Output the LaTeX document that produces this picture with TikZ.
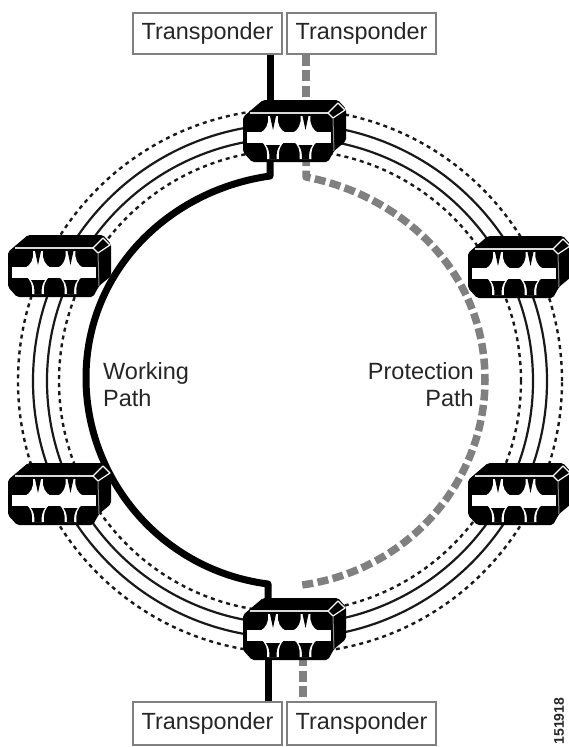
\documentclass[tikz,border=0pt]{standalone}
\usepackage{fontspec}
\setmainfont{Liberation Sans}
\tikzset{
 x=1pt,y=-1pt,
 ringsolid/.style={line width=2.2pt,black!90},
 ringdot/.style={line width=2.4pt,black!90,dash pattern=on 4pt off 4pt},
 working/.style={line width=7pt,black,line join=round},
 protect/.style={line width=7.5pt,black!50,dash pattern=on 11pt off 4.5pt,line join=round},
 tbox/.style={draw=black!50,line width=1.2pt,fill=white,minimum height=41pt,inner sep=0pt,text=black!85,font=\fontsize{23.4}{26}\selectfont},
 lab/.style={font=\fontsize{23.5}{27}\selectfont,inner sep=0pt,text=black!85},
 oadm/.pic={
  \fill[black,rounded corners=2pt] (-30,-31) -- (45,-31) -- (53,-22) -- (53,10) -- (41,20) -- (35,31) -- (-41,31) -- (-50,21) -- (-50,-14) -- cycle;
  \draw[white!85!black,line width=1.2pt] (-43,-18) -- (35,-18);
  \draw[white,line width=1.2pt,line join=round] (35,-18) -- (45,-28) -- (52,-21) -- (40,-13) -- cycle;
  \draw[black!45,line width=1pt] (40,-13) -- (41,20);
  \foreach \c in {-20,12.5}{
   \fill[white] (\c-5,-15) .. controls (\c-4,-7) and (\c-7,-1) .. (\c-13,2) -- (\c+13,2) .. controls (\c+7,-1) and (\c+4,-7) .. (\c+5,-15) -- cycle;
   \fill[black] (\c-3,-15) -- (\c+3,-15) -- (\c,-1) -- cycle;
   \fill[white] (\c-13,10) .. controls (\c-7,13) and (\c-5,20) .. (\c-6,28) -- (\c+6,28) .. controls (\c+5,20) and (\c+7,13) .. (\c+13,10) -- cycle;
   \fill[black] (\c-7,14) -- (\c+7,14) .. controls (\c+4,18) and (\c+3.5,22) .. (\c+3.5,28) -- (\c-3.5,28) .. controls (\c-3.5,22) and (\c-4,18) .. (\c-7,14) -- cycle;
  }
  \fill[white] (-46,1) rectangle (38,11.5);
 }
}
\begin{document}
\begin{tikzpicture}
\useasboundingbox (0,0) rectangle (569,747);
\fill[white] (0,0) rectangle (569,747);
\coordinate (c) at (290,381);
% rings
\draw[ringdot] (c) circle[radius=272pt];
\draw[ringsolid] (c) circle[radius=257pt];
\draw[ringsolid] (c) circle[radius=243pt];
\draw[ringdot] (c) circle[radius=231pt];
% anchors of the devices
\coordinate (nt) at (293,131);
\coordinate (nb) at (293,629);
\coordinate (nl1) at (58,266);
\coordinate (nl2) at (58,494);
\coordinate (nr1) at (518,267);
\coordinate (nr2) at (518,494);
% transponders
\node[tbox,minimum width=149pt] (t1) at (207.5,33.5) {Transponder};
\node[tbox,minimum width=149pt] (t2) at (361.5,33.5) {Transponder};
\node[tbox,minimum height=43pt,minimum width=149pt] (b1) at (207.5,723.5) {Transponder};
\node[tbox,minimum height=43pt,minimum width=149pt] (b2) at (361.5,723.5) {Transponder};
% paths
\draw[working] (t1.south -| 270,0) -- (270,105);
\draw[protect] (t2.south -| 306,0) -- (306,105);
\draw[working] (270,155) -- (270,176) .. controls (170,190) and (86,270) .. (86,378) .. controls (86,478) and (160,570) .. (268,584) -- (268,605);
\draw[protect] (306,155) -- (306,177) .. controls (400,195) and (485,270) .. (485,380) .. controls (485,480) and (410,570) .. (302,585);
\draw[working] (268,655) -- (b1.north -| 268,0);
\draw[protect] (303,655) -- (b2.north -| 303,0);
\pic at (nt) {oadm};
\pic at (nb) {oadm};
\pic at (nl1) {oadm};
\pic at (nl2) {oadm};
\pic at (nr1) {oadm};
\pic at (nr2) {oadm};
\node[lab,anchor=north west,align=left] (wp) at (103,362) {Working\\Path};
\node[lab,anchor=north east,align=right] (pp) at (474,362) {Protection\\Path};
\node[rotate=90,font=\fontsize{14}{16}\selectfont\bfseries,inner sep=0pt,text=black!85] (id) at (559,721) {151918};
\end{tikzpicture}
\end{document}
